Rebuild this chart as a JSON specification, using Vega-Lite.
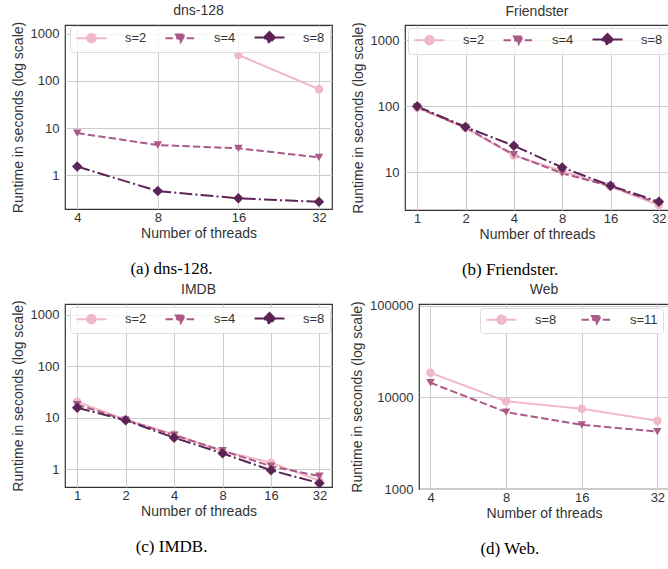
{
  "$schema": "https://vega.github.io/schema/vega-lite/v6.json",
  "padding": {"left": 10, "top": 3, "right": 0, "bottom": 0},
  "datasets": {
    "dns": [
      {"s": "s=2", "threads": 16, "runtime": 357},
      {"s": "s=2", "threads": 32, "runtime": 67},
      {"s": "s=4", "threads": 4, "runtime": 7.8},
      {"s": "s=4", "threads": 8, "runtime": 4.35},
      {"s": "s=4", "threads": 16, "runtime": 3.7},
      {"s": "s=4", "threads": 32, "runtime": 2.38},
      {"s": "s=8", "threads": 4, "runtime": 1.52},
      {"s": "s=8", "threads": 8, "runtime": 0.456},
      {"s": "s=8", "threads": 16, "runtime": 0.32},
      {"s": "s=8", "threads": 32, "runtime": 0.27}
    ],
    "fr": [
      {"s": "s=2", "threads": 1, "runtime": 95},
      {"s": "s=2", "threads": 2, "runtime": 47},
      {"s": "s=2", "threads": 4, "runtime": 18},
      {"s": "s=2", "threads": 8, "runtime": 10.5},
      {"s": "s=2", "threads": 16, "runtime": 6.1},
      {"s": "s=2", "threads": 32, "runtime": 3.2},
      {"s": "s=4", "threads": 1, "runtime": 97},
      {"s": "s=4", "threads": 2, "runtime": 48},
      {"s": "s=4", "threads": 4, "runtime": 18.5},
      {"s": "s=4", "threads": 8, "runtime": 9.7},
      {"s": "s=4", "threads": 16, "runtime": 6.2},
      {"s": "s=4", "threads": 32, "runtime": 3.4},
      {"s": "s=8", "threads": 1, "runtime": 100},
      {"s": "s=8", "threads": 2, "runtime": 48.6},
      {"s": "s=8", "threads": 4, "runtime": 25.3},
      {"s": "s=8", "threads": 8, "runtime": 11.9},
      {"s": "s=8", "threads": 16, "runtime": 6.3},
      {"s": "s=8", "threads": 32, "runtime": 3.6}
    ],
    "imdb": [
      {"s": "s=2", "threads": 1, "runtime": 20.4},
      {"s": "s=2", "threads": 2, "runtime": 9.2},
      {"s": "s=2", "threads": 4, "runtime": 4.75},
      {"s": "s=2", "threads": 8, "runtime": 2.26},
      {"s": "s=2", "threads": 16, "runtime": 1.35},
      {"s": "s=2", "threads": 32, "runtime": 0.6},
      {"s": "s=4", "threads": 1, "runtime": 18},
      {"s": "s=4", "threads": 2, "runtime": 9},
      {"s": "s=4", "threads": 4, "runtime": 4.6},
      {"s": "s=4", "threads": 8, "runtime": 2.3},
      {"s": "s=4", "threads": 16, "runtime": 1.15},
      {"s": "s=4", "threads": 32, "runtime": 0.74},
      {"s": "s=8", "threads": 1, "runtime": 15.6},
      {"s": "s=8", "threads": 2, "runtime": 8.9},
      {"s": "s=8", "threads": 4, "runtime": 4.1},
      {"s": "s=8", "threads": 8, "runtime": 2.04},
      {"s": "s=8", "threads": 16, "runtime": 0.96},
      {"s": "s=8", "threads": 32, "runtime": 0.54}
    ],
    "web": [
      {"s": "s=8", "threads": 4, "runtime": 18500},
      {"s": "s=8", "threads": 8, "runtime": 9040},
      {"s": "s=8", "threads": 16, "runtime": 7500},
      {"s": "s=8", "threads": 32, "runtime": 5550},
      {"s": "s=11", "threads": 4, "runtime": 14400},
      {"s": "s=11", "threads": 8, "runtime": 6900},
      {"s": "s=11", "threads": 16, "runtime": 5010},
      {"s": "s=11", "threads": 32, "runtime": 4230}
    ]
  },
  "config": {
    "font": "Liberation Sans",
    "view": {"stroke": "#333333", "strokeWidth": 1.2},
    "axis": {
      "grid": true, "gridColor": "#cccccc", "gridWidth": 1, "ticks": false, "domain": false,
      "labelFont": "Liberation Sans", "labelFontSize": 13, "labelColor": "#333333",
      "titleFont": "Liberation Sans", "titleFontSize": 14, "titleFontWeight": "normal", "titleColor": "#333333"
    },
    "axisX": {"titlePadding": 2, "labelPadding": 2},
    "axisY": {"titlePadding": 5, "labelPadding": 6},
    "title": {"font": "Liberation Sans", "fontSize": 14, "fontWeight": "normal", "color": "#333333", "offset": 3},
    "legend": {
      "orient": "none", "direction": "horizontal", "gridAlign": "all",
      "columnPadding": 14, "symbolSize": 100, "symbolOffset": 10, "labelOffset": 27,
      "symbolStrokeWidth": 2, "symbolOpacity": 1,
      "labelFont": "Liberation Sans", "labelFontSize": 13, "labelColor": "#333333",
      "strokeColor": "#dddddd", "fillColor": "rgba(255,255,255,0.8)", "padding": 5, "cornerRadius": 3
    }
  },
  "resolve": {"scale": {"color": "independent", "shape": "independent", "strokeDash": "independent"}, "legend": {"color": "independent", "shape": "independent", "strokeDash": "independent"}},
  "spacing": 3,
  "vconcat": [
    {
      "spacing": 17,
      "resolve": {"scale": {"color": "independent", "shape": "independent", "strokeDash": "independent"}, "legend": {"color": "independent", "shape": "independent", "strokeDash": "independent"}},
      "hconcat": [
        {
          "title": {"text": "(a) dns-128.", "orient": "bottom", "anchor": "middle", "font": "Liberation Serif", "fontSize": 17, "color": "#000000", "offset": 20},
          "vconcat": [
            {
              "width": 267, "height": 184,
              "title": "dns-128",
              "data": {"name": "dns"},
              "encoding": {
                "x": {"field": "threads", "type": "quantitative", "scale": {"type": "log", "base": 2, "domain": [3.6, 35.8], "nice": false}, "axis": {"values": [4, 8, 16, 32], "format": "d", "title": "Number of threads"}},
                "y": {"field": "runtime", "type": "quantitative", "scale": {"type": "log", "domain": [0.19, 1550], "nice": false}, "axis": {"values": [1, 10, 100, 1000], "format": "d", "title": "Runtime in seconds (log scale)"}},
                "color": {"field": "s", "type": "nominal", "scale": {"domain": ["s=2", "s=4", "s=8"], "range": ["#f0b8c8", "#ab5a87", "#5c2456"]},
                  "legend": {"title": null, "legendX": 5, "legendY": 1, "columns": 3}}
              },
              "layer": [
                {"mark": {"type": "line", "strokeWidth": 2},
                 "encoding": {"strokeDash": {"field": "s", "type": "nominal", "scale": {"domain": ["s=2", "s=4", "s=8"], "range": [[1, 0], [7.4, 3.2], [12.8, 3.2, 2, 3.2]]}, "legend": null}}},
                {"mark": {"type": "point", "filled": true, "opacity": 1},
                 "encoding": {
                   "shape": {"condition": [{"test": "datum.s === 's=2'", "value": "circle"}, {"test": "datum.s === 's=4'", "value": "triangle-down"}], "value": "diamond"},
                   "size": {"condition": [{"test": "datum.s === 's=8'", "value": 110}], "value": 72}}},
                {"transform": [{"filter": "false"}],
                 "mark": {"type": "point", "filled": true, "opacity": 1},
                 "encoding": {
                   "shape": {"field": "s", "type": "nominal", "scale": {"domain": ["s=2", "s=4", "s=8"], "range": ["M-3,0H3M0.85,0A0.85,0.85,0,1,1,-0.85,0A0.85,0.85,0,1,1,0.85,0Z", "M-3,0H3M-0.9,-0.75L0.9,-0.75L0,0.8Z", "M-3,0H3M0,-1.1L1.1,0L0,1.1L-1.1,0Z"]}}}}
              ]
            }
          ]
        },
        {
          "title": {"text": "(b) Friendster.", "orient": "bottom", "anchor": "middle", "font": "Liberation Serif", "fontSize": 17, "color": "#000000", "offset": 20},
          "vconcat": [
            {
              "width": 264, "height": 185,
              "title": "Friendster",
              "data": {"name": "fr"},
              "encoding": {
                "x": {"field": "threads", "type": "quantitative", "scale": {"type": "log", "base": 2, "domain": [0.84, 37], "nice": false}, "axis": {"values": [1, 2, 4, 8, 16, 32], "format": "d", "title": "Number of threads"}},
                "y": {"field": "runtime", "type": "quantitative", "scale": {"type": "log", "domain": [2.7, 1700], "nice": false}, "axis": {"values": [10, 100, 1000], "format": "d", "title": "Runtime in seconds (log scale)"}},
                "color": {"field": "s", "type": "nominal", "scale": {"domain": ["s=2", "s=4", "s=8"], "range": ["#f0b8c8", "#ab5a87", "#5c2456"]},
                  "legend": {"title": null, "legendX": 3, "legendY": 3, "columns": 3}}
              },
              "layer": [
                {"mark": {"type": "line", "strokeWidth": 2},
                 "encoding": {"strokeDash": {"field": "s", "type": "nominal", "scale": {"domain": ["s=2", "s=4", "s=8"], "range": [[1, 0], [7.4, 3.2], [12.8, 3.2, 2, 3.2]]}, "legend": null}}},
                {"mark": {"type": "point", "filled": true, "opacity": 1},
                 "encoding": {
                   "shape": {"condition": [{"test": "datum.s === 's=2'", "value": "circle"}, {"test": "datum.s === 's=4'", "value": "triangle-down"}], "value": "diamond"},
                   "size": {"condition": [{"test": "datum.s === 's=8'", "value": 110}], "value": 72}}},
                {"transform": [{"filter": "false"}],
                 "mark": {"type": "point", "filled": true, "opacity": 1},
                 "encoding": {
                   "shape": {"field": "s", "type": "nominal", "scale": {"domain": ["s=2", "s=4", "s=8"], "range": ["M-3,0H3M0.85,0A0.85,0.85,0,1,1,-0.85,0A0.85,0.85,0,1,1,0.85,0Z", "M-3,0H3M-0.9,-0.75L0.9,-0.75L0,0.8Z", "M-3,0H3M0,-1.1L1.1,0L0,1.1L-1.1,0Z"]}}}}
              ]
            }
          ]
        }
      ]
    },
    {
      "spacing": 17,
      "resolve": {"scale": {"color": "independent", "shape": "independent", "strokeDash": "independent"}, "legend": {"color": "independent", "shape": "independent", "strokeDash": "independent"}},
      "hconcat": [
        {
          "title": {"text": "(c) IMDB.", "orient": "bottom", "anchor": "middle", "font": "Liberation Serif", "fontSize": 17, "color": "#000000", "offset": 20},
          "vconcat": [
            {
              "width": 267, "height": 183,
              "title": "IMDB",
              "data": {"name": "imdb"},
              "encoding": {
                "x": {"field": "threads", "type": "quantitative", "scale": {"type": "log", "base": 2, "domain": [0.84, 38.3], "nice": false}, "axis": {"values": [1, 2, 4, 8, 16, 32], "format": "d", "title": "Number of threads"}},
                "y": {"field": "runtime", "type": "quantitative", "scale": {"type": "log", "domain": [0.455, 1600], "nice": false}, "axis": {"values": [1, 10, 100, 1000], "format": "d", "title": "Runtime in seconds (log scale)"}},
                "color": {"field": "s", "type": "nominal", "scale": {"domain": ["s=2", "s=4", "s=8"], "range": ["#f0b8c8", "#ab5a87", "#5c2456"]},
                  "legend": {"title": null, "legendX": 5, "legendY": 3, "columns": 3}}
              },
              "layer": [
                {"mark": {"type": "line", "strokeWidth": 2},
                 "encoding": {"strokeDash": {"field": "s", "type": "nominal", "scale": {"domain": ["s=2", "s=4", "s=8"], "range": [[1, 0], [7.4, 3.2], [12.8, 3.2, 2, 3.2]]}, "legend": null}}},
                {"mark": {"type": "point", "filled": true, "opacity": 1},
                 "encoding": {
                   "shape": {"condition": [{"test": "datum.s === 's=2'", "value": "circle"}, {"test": "datum.s === 's=4'", "value": "triangle-down"}], "value": "diamond"},
                   "size": {"condition": [{"test": "datum.s === 's=8'", "value": 110}], "value": 72}}},
                {"transform": [{"filter": "false"}],
                 "mark": {"type": "point", "filled": true, "opacity": 1},
                 "encoding": {
                   "shape": {"field": "s", "type": "nominal", "scale": {"domain": ["s=2", "s=4", "s=8"], "range": ["M-3,0H3M0.85,0A0.85,0.85,0,1,1,-0.85,0A0.85,0.85,0,1,1,0.85,0Z", "M-3,0H3M-0.9,-0.75L0.9,-0.75L0,0.8Z", "M-3,0H3M0,-1.1L1.1,0L0,1.1L-1.1,0Z"]}}}}
              ]
            }
          ]
        },
        {
          "title": {"text": "(d) Web.", "orient": "bottom", "anchor": "middle", "font": "Liberation Serif", "fontSize": 17, "color": "#000000", "offset": 20},
          "vconcat": [
            {
              "width": 250, "height": 185,
              "title": "Web",
              "data": {"name": "web"},
              "encoding": {
                "x": {"field": "threads", "type": "quantitative", "scale": {"type": "log", "base": 2, "domain": [3.6, 35.6], "nice": false}, "axis": {"values": [4, 8, 16, 32], "format": "d", "title": "Number of threads"}},
                "y": {"field": "runtime", "type": "quantitative", "scale": {"type": "log", "domain": [1000, 104000], "nice": false}, "axis": {"values": [1000, 10000, 100000], "format": "d", "title": "Runtime in seconds (log scale)"}},
                "color": {"field": "s", "type": "nominal", "scale": {"domain": ["s=8", "s=11"], "range": ["#f0b8c8", "#ab5a87"]},
                  "legend": {"title": null, "legendX": 61, "legendY": 4, "columns": 2}}
              },
              "layer": [
                {"mark": {"type": "line", "strokeWidth": 2},
                 "encoding": {"strokeDash": {"field": "s", "type": "nominal", "scale": {"domain": ["s=8", "s=11"], "range": [[1, 0], [7.4, 3.2]]}, "legend": null}}},
                {"mark": {"type": "point", "filled": true, "opacity": 1},
                 "encoding": {
                   "shape": {"condition": {"test": "datum.s === 's=11'", "value": "triangle-down"}, "value": "circle"},
                   "size": {"value": 72}}},
                {"transform": [{"filter": "false"}],
                 "mark": {"type": "point", "filled": true, "opacity": 1},
                 "encoding": {
                   "shape": {"field": "s", "type": "nominal", "scale": {"domain": ["s=8", "s=11"], "range": ["M-3,0H3M0.85,0A0.85,0.85,0,1,1,-0.85,0A0.85,0.85,0,1,1,0.85,0Z", "M-3,0H3M-0.9,-0.75L0.9,-0.75L0,0.8Z"]}}}}
              ]
            }
          ]
        }
      ]
    }
  ]
}
